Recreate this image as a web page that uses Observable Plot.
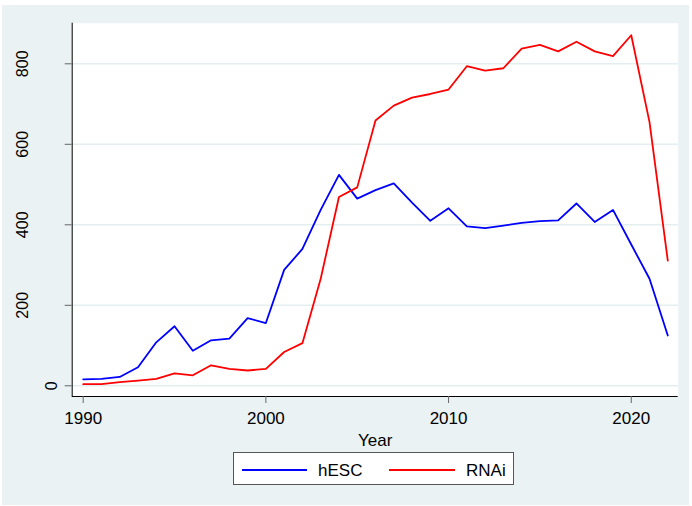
<!DOCTYPE html>
<html>
<head>
<meta charset="utf-8">
<script src="https://cdn.jsdelivr.net/npm/d3@7"></script>
<script src="https://cdn.jsdelivr.net/npm/@observablehq/plot@0.6"></script>
<style>
  body { margin: 0; background: #ffffff; }
  #wrap { position: relative; width: 692px; height: 506px; font-family: "Liberation Sans", Arial, sans-serif; overflow: hidden; }
  #bg { position: absolute; left: 2px; top: 5px; width: 687px; height: 500px; background: #EAF2F3; }
  #chart { position: absolute; left: 0; top: 0; }
  #legend { position: absolute; left: 233px; top: 452px; width: 279px; height: 31px; border: 1px solid #555; background: #fff; }
  .sw { position: absolute; height: 2px; top: 16px; }
  .lab { position: absolute; font-size: 17px; line-height: 17px; top: 9px; color: #000; white-space: nowrap; }
</style>
</head>
<body>
<div id="wrap">
  <div id="bg"></div>
  <div id="chart"></div>
  <div id="legend"></div>
</div>
<script>
const years = d3.range(1990, 2023);
const hESC = [16,17,22,46,108,148,87,113,117,168,156,288,340,437,524,465,486,503,455,410,441,396,392,398,405,409,411,453,407,437,351,266,125];
const RNAi = [4,4,9,13,17,31,26,51,42,38,42,84,106,266,469,493,659,696,716,725,736,794,783,789,838,847,831,855,831,819,871,655,311];
const seriesNames = ["hESC", "RNAi"];
const seriesColors = ["#0000ff", "#ff0000"];
const xTicks = [1990, 2000, 2010, 2020];
const yTicks = [0, 200, 400, 600, 800];
const xDomain = [1989.398, 2022.57];
const yDomain = [-26.6, 900.9];

const rows = [];
years.forEach((yr, i) => {
  rows.push({year: yr, value: hESC[i], series: "hESC"});
  rows.push({year: yr, value: RNAi[i], series: "RNAi"});
});

const font = '"Liberation Sans", Arial, sans-serif';

const chart = Plot.plot({
  width: 692,
  height: 506,
  marginLeft: 71.7,
  marginRight: 14.3,
  marginTop: 22.7,
  marginBottom: 110,
  style: { background: "transparent", fontFamily: font, fontSize: "17px", color: "#000", overflow: "visible" },
  x: { domain: xDomain, axis: null, label: null },
  y: { domain: yDomain, axis: null, label: null },
  color: { domain: seriesNames, range: seriesColors },
  marks: [
    Plot.frame({ fill: "white", stroke: null }),
    Plot.gridY(yTicks, { stroke: "#E4EDEF", strokeOpacity: 1, strokeWidth: 1.5 }),
    Plot.line(rows, { x: "year", y: "value", z: "series", stroke: "series", strokeWidth: 1.8 }),
    Plot.ruleX([xDomain[0]], { stroke: "#000", strokeWidth: 1 }),
    Plot.ruleY([yDomain[0]], { stroke: "#000", strokeWidth: 1 }),
    Plot.axisX({ ticks: xTicks, label: null, tickSize: 7, tickFormat: () => "", stroke: "#666" }),
    Plot.axisX({ ticks: xTicks, label: null, tickSize: 0, tickPadding: 15.7, tickFormat: d => String(d), fill: "#000", fontSize: 17, lineAnchor: "top" }),
    Plot.axisY({ ticks: yTicks, label: null, tickSize: 7, tickFormat: () => "", stroke: "#666" }),
    Plot.axisY({ ticks: yTicks.filter(d => d !== 0), label: null, tickSize: 0, tickPadding: 49.4, tickRotate: -90, textAnchor: "middle", lineAnchor: "middle", tickFormat: d => String(d), fill: "#000", fontSize: 16 }),
    Plot.axisY({ ticks: [0], label: null, tickSize: 0, tickPadding: 20.6, tickRotate: -90, textAnchor: "middle", lineAnchor: "middle", tickFormat: d => String(d), fill: "#000", fontSize: 16 }),
    Plot.text(["Year"], { frameAnchor: "bottom", dy: 37, lineAnchor: "top", fontSize: 17, fill: "#000" })
  ]
});
document.getElementById("chart").appendChild(chart);

// Legend
const legend = document.getElementById("legend");
const legendLayout = [
  { swLeft: 8, swWidth: 65, labLeft: 84 },
  { swLeft: 155, swWidth: 66, labLeft: 232 }
];
seriesNames.forEach((name, i) => {
  const sw = document.createElement("div");
  sw.className = "sw";
  sw.style.left = legendLayout[i].swLeft + "px";
  sw.style.width = legendLayout[i].swWidth + "px";
  sw.style.background = seriesColors[i];
  legend.appendChild(sw);
  const lab = document.createElement("div");
  lab.className = "lab";
  lab.style.left = legendLayout[i].labLeft + "px";
  lab.textContent = name;
  legend.appendChild(lab);
});
</script>
</body>
</html>
